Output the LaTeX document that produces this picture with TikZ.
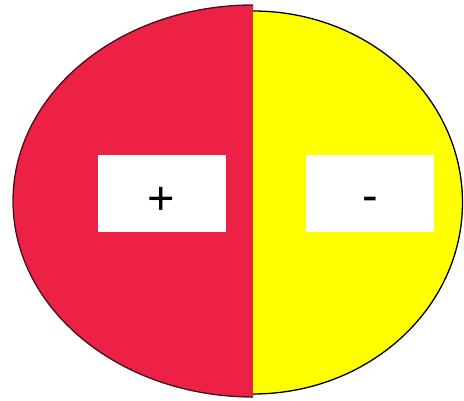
\documentclass[tikz,border=0pt]{standalone}
\usepackage{fontspec}
\setmainfont{Liberation Sans}
\definecolor{redhalf}{RGB}{236,33,69}
\definecolor{yellowhalf}{RGB}{255,255,0}
\definecolor{edgedark}{RGB}{60,20,30}
\tikzset{
  signbox/.style={fill=white, draw=none, minimum width=128pt, minimum height=77pt, inner sep=0pt},
  signtext/.style={anchor=base, inner sep=0pt, font=\fontsize{47}{47}\selectfont},
}
\begin{document}
\begin{tikzpicture}[x=1pt,y=1pt]
\useasboundingbox (0,0) rectangle (464,401);
% red half
\fill[redhalf] (253,396) arc[start angle=90, end angle=270, x radius=240, y radius=196] -- cycle;
\draw[edgedark, line width=1.3pt] (253,396) arc[start angle=90, end angle=270, x radius=240, y radius=196];
% yellow half
\fill[yellowhalf] (253,390) arc[start angle=90, end angle=-90, x radius=209.5, y radius=191.5] -- cycle;
\draw[black, line width=1.3pt] (253,390) arc[start angle=90, end angle=-90, x radius=209.5, y radius=191.5];
% boxes
\node[signbox] (plusbox) at (162,207.5) {};
\node[signbox] (minusbox) at (370,207.5) {};
\node[signtext] (plus) at (161.5,186) {+};
\node[signtext] (minus) at (370,189) {-};
\end{tikzpicture}
\end{document}
